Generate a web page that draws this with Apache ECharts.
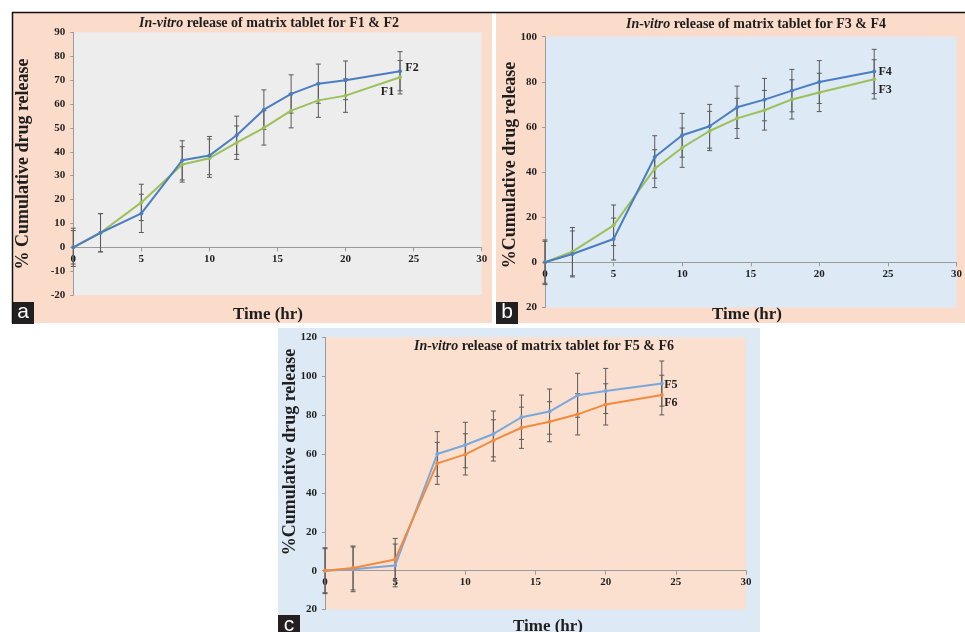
<!DOCTYPE html>
<html><head><meta charset="utf-8">
<script src="https://cdn.jsdelivr.net/npm/echarts@6/dist/echarts.min.js"></script>
<style>html,body{margin:0;padding:0;background:#fff}#c{width:965px;height:632px}</style>
</head><body><div id="c"></div>
<script>
// ---- data ----
const time = [0, 2, 5, 8, 10, 12, 14, 16, 18, 20, 24];
const F1 = [0, 6.1, 18.8, 34.7, 37.3, 43.8, 50.0, 57.2, 61.5, 63.5, 71.2];
const F1err = [7, 8, 7.6, 7.4, 8, 7, 7.2, 7.2, 7.1, 7, 7];
const F2 = [0, 6.1, 14.2, 36.4, 38.4, 46.9, 57.6, 64.2, 68.5, 69.9, 73.7];
const F2err = [8, 8, 8, 8.2, 8, 8, 8.3, 8, 8.2, 8.1, 8.2];
const F3 = [0, 4.7, 16.4, 41.5, 50.8, 58.2, 63.8, 67.4, 72.2, 75.3, 81.1];
const F3err = [9.3, 10.7, 9, 8.4, 8.7, 8.7, 8.9, 8.8, 8.7, 8.5, 8.7];
const F4 = [0, 3.7, 10.3, 46.7, 56.3, 60.3, 68.7, 72.1, 76.1, 79.9, 84.6];
const F4err = [9.9, 10.2, 9.3, 9.4, 9.7, 9.7, 9.4, 9.4, 9.4, 9.5, 9.8];
const F5 = [0, 0.7, 2.7, 60.0, 64.6, 70.3, 78.9, 81.8, 90.2, 92.4, 96.2];
const F5err = [11.3, 11.5, 11, 11.5, 11.7, 11.8, 11.4, 11.6, 11.3, 11.6, 11.6];
const F6 = [0, 1.4, 5.8, 55.2, 59.8, 67.0, 73.5, 76.6, 80.4, 85.5, 90.3];
const F6err = [11.8, 11.3, 10.8, 10.8, 10.6, 10.6, 10.6, 10.3, 10.6, 10.6, 10.2];
const titles = ['release of matrix tablet for F1 & F2', 'release of matrix tablet for F3 & F4', 'release of matrix tablet for F5 & F6'];
const yNames = ['% Cumulative drug release', '%Cumulative drug release', '%Cumulative drug release'];
const xName = 'Time (hr)';
const panelTags = ['a', 'b', 'c'];
const xRange = {min: 0, max: 30, interval: 5};
const yRanges = [{min: -20, max: 90, interval: 10}, {min: -20, max: 100, interval: 20}, {min: -20, max: 120, interval: 20}];

// ---- style ----
const SERIF = '"Liberation Serif", "Times New Roman", serif';
const TXT = '#1e1e1e';
const AX = '#9a9a9a';
const BLUE = '#4a7ec0', GREEN = '#9cc05a', LBLUE = '#7aa7dc', ORANGE = '#f28a3f';
const SALMON = '#fbdccb', PALEBLUE = '#dde9f5';

const chart = echarts.init(document.getElementById('c'), null, {renderer: 'canvas'});

const grids = [
  {left: 73.3, top: 32.3, width: 408.4, height: 262.8, bg: '#ededed'},
  {left: 545, top: 36.7, width: 416.7, height: 270.7, bg: PALEBLUE},
  {left: 325, top: 337.3, width: 421, height: 272.3, bg: '#fce0cf'}
];

function xAx(gi) {
  const r = yRanges[gi];
  // place the x axis (line + labels) on the y = 0 line
  const zeroOffset = -grids[gi].height * (0 - r.min) / (r.max - r.min);
  return {type: 'value', gridIndex: gi, min: xRange.min, max: xRange.max, interval: xRange.interval,
    position: 'bottom', offset: zeroOffset,
    axisLine: {show: true, onZero: false, lineStyle: {color: AX, width: 1}},
    axisTick: {show: true, length: 4, lineStyle: {color: AX}},
    axisLabel: {margin: 6, fontFamily: SERIF, fontWeight: 'bold', fontSize: 11, color: TXT},
    splitLine: {show: false}};
}
function yAx(gi) {
  const r = yRanges[gi];
  return {type: 'value', gridIndex: gi, min: r.min, max: r.max, interval: r.interval,
    axisLine: {show: true, onZero: false, lineStyle: {color: AX, width: 1}},
    axisTick: {show: true, length: 3, lineStyle: {color: AX}},
    axisLabel: {margin: 8, fontFamily: SERIF, fontWeight: 'bold', fontSize: 11, color: TXT,
      formatter: v => (gi > 0 && v < 0) ? String(-v) : String(v)},
    splitLine: {show: false}};
}
function lineSeries(name, gi, vals, color, off) {
  return {type: 'line', name, xAxisIndex: gi, yAxisIndex: gi, z: 4,
    symbol: 'circle', symbolSize: 4, showSymbol: true,
    lineStyle: {color, width: 2}, itemStyle: {color},
    label: {show: false},
    data: time.map((t, i) => {
      const d = {value: [t, vals[i]]};
      if (i === time.length - 1) d.label = {show: true, formatter: name, position: 'inside', offset: off,
        align: 'center', verticalAlign: 'middle', fontFamily: SERIF, fontWeight: 'bold', fontSize: 12, color: TXT};
      return d;
    })};
}
function errSeries(gi, vals, errs) {
  return {type: 'custom', xAxisIndex: gi, yAxisIndex: gi, z: 3, silent: true,
    data: time.map((t, i) => [t, vals[i] - errs[i], vals[i] + errs[i]]),
    encode: {x: 0, y: [1, 2]},
    renderItem: (params, api) => {
      const lo = api.coord([api.value(0), api.value(1)]);
      const hi = api.coord([api.value(0), api.value(2)]);
      const w = 2.5, st = {stroke: '#5a5a5a', lineWidth: 1};
      return {type: 'group', children: [
        {type: 'line', shape: {x1: lo[0], y1: lo[1], x2: hi[0], y2: hi[1]}, style: st},
        {type: 'line', shape: {x1: lo[0] - w, y1: lo[1], x2: lo[0] + w, y2: lo[1]}, style: st},
        {type: 'line', shape: {x1: hi[0] - w, y1: hi[1], x2: hi[0] + w, y2: hi[1]}, style: st}
      ]};
    }};
}

const graphics = [
  // panel backgrounds
  {type: 'rect', z: -100, shape: {x: 12, y: 12, width: 480, height: 311}, style: {fill: SALMON}},
  {type: 'rect', z: -100, shape: {x: 496, y: 12, width: 469, height: 311}, style: {fill: SALMON}},
  {type: 'rect', z: -100, shape: {x: 278, y: 328, width: 482, height: 304}, style: {fill: PALEBLUE}},
  {type: 'line', z: 50, shape: {x1: 12, y1: 12.5, x2: 965, y2: 12.5}, style: {stroke: '#111', lineWidth: 1.5}},
  {type: 'line', z: 50, shape: {x1: 12.5, y1: 12, x2: 12.5, y2: 323}, style: {stroke: '#111', lineWidth: 1.5}}
];
const titlePos = [[269, 23], [756, 24], [544, 346]];
const yNamePos = [[23, 164], [510, 165], [290, 452]];
const xNamePos = [[268, 315], [747, 315], [548, 627]];
const tagPos = [[12, 302], [496, 302], [278, 615]];
for (let k = 0; k < 3; k++) {
  graphics.push({type: 'text', z: 20, x: titlePos[k][0], y: titlePos[k][1], style: {
    text: '{i|In-vitro} {n|' + titles[k] + '}', align: 'center', verticalAlign: 'middle',
    rich: {i: {fontFamily: SERIF, fontSize: 14, fontWeight: 'bold', fontStyle: 'italic', fill: TXT},
           n: {fontFamily: SERIF, fontSize: 14, fontWeight: 'bold', fill: TXT}}}});
  graphics.push({type: 'text', z: 20, x: yNamePos[k][0], y: yNamePos[k][1], rotation: Math.PI / 2, style: {
    text: yNames[k], align: 'center', verticalAlign: 'middle', fontFamily: SERIF, fontSize: 18, fontWeight: 'bold', fill: TXT}});
  graphics.push({type: 'text', z: 20, x: xNamePos[k][0], y: xNamePos[k][1], style: {
    text: xName, align: 'center', verticalAlign: 'middle', fontFamily: SERIF, fontSize: 17, fontWeight: 'bold', fill: TXT}});
  graphics.push({type: 'rect', z: 30, shape: {x: tagPos[k][0], y: tagPos[k][1], width: 22, height: 22}, style: {fill: '#231f20'}});
  graphics.push({type: 'text', z: 31, x: tagPos[k][0] + 11, y: tagPos[k][1] + 10, style: {
    text: panelTags[k], align: 'center', verticalAlign: 'middle', fontFamily: '"Liberation Sans", Arial, sans-serif', fontSize: 21, fill: '#fff'}});
}

chart.setOption({
  animation: false,
  backgroundColor: '#fff',
  grid: grids.map(g => ({left: g.left, top: g.top, width: g.width, height: g.height, show: true,
    backgroundColor: g.bg, borderWidth: 0, containLabel: false})),
  xAxis: [xAx(0), xAx(1), xAx(2)],
  yAxis: [yAx(0), yAx(1), yAx(2)],
  graphic: graphics,
  series: [
    errSeries(0, F1, F1err), errSeries(0, F2, F2err),
    lineSeries('F1', 0, F1, GREEN, [-12.5, 14.5]), lineSeries('F2', 0, F2, BLUE, [12, -3]),
    errSeries(1, F3, F3err), errSeries(1, F4, F4err),
    lineSeries('F3', 1, F3, GREEN, [11, 11]), lineSeries('F4', 1, F4, BLUE, [11, 0]),
    errSeries(2, F5, F5err), errSeries(2, F6, F6err),
    lineSeries('F5', 2, F5, LBLUE, [9, 1]), lineSeries('F6', 2, F6, ORANGE, [9, 8])
  ]
});
</script>
</body></html>
